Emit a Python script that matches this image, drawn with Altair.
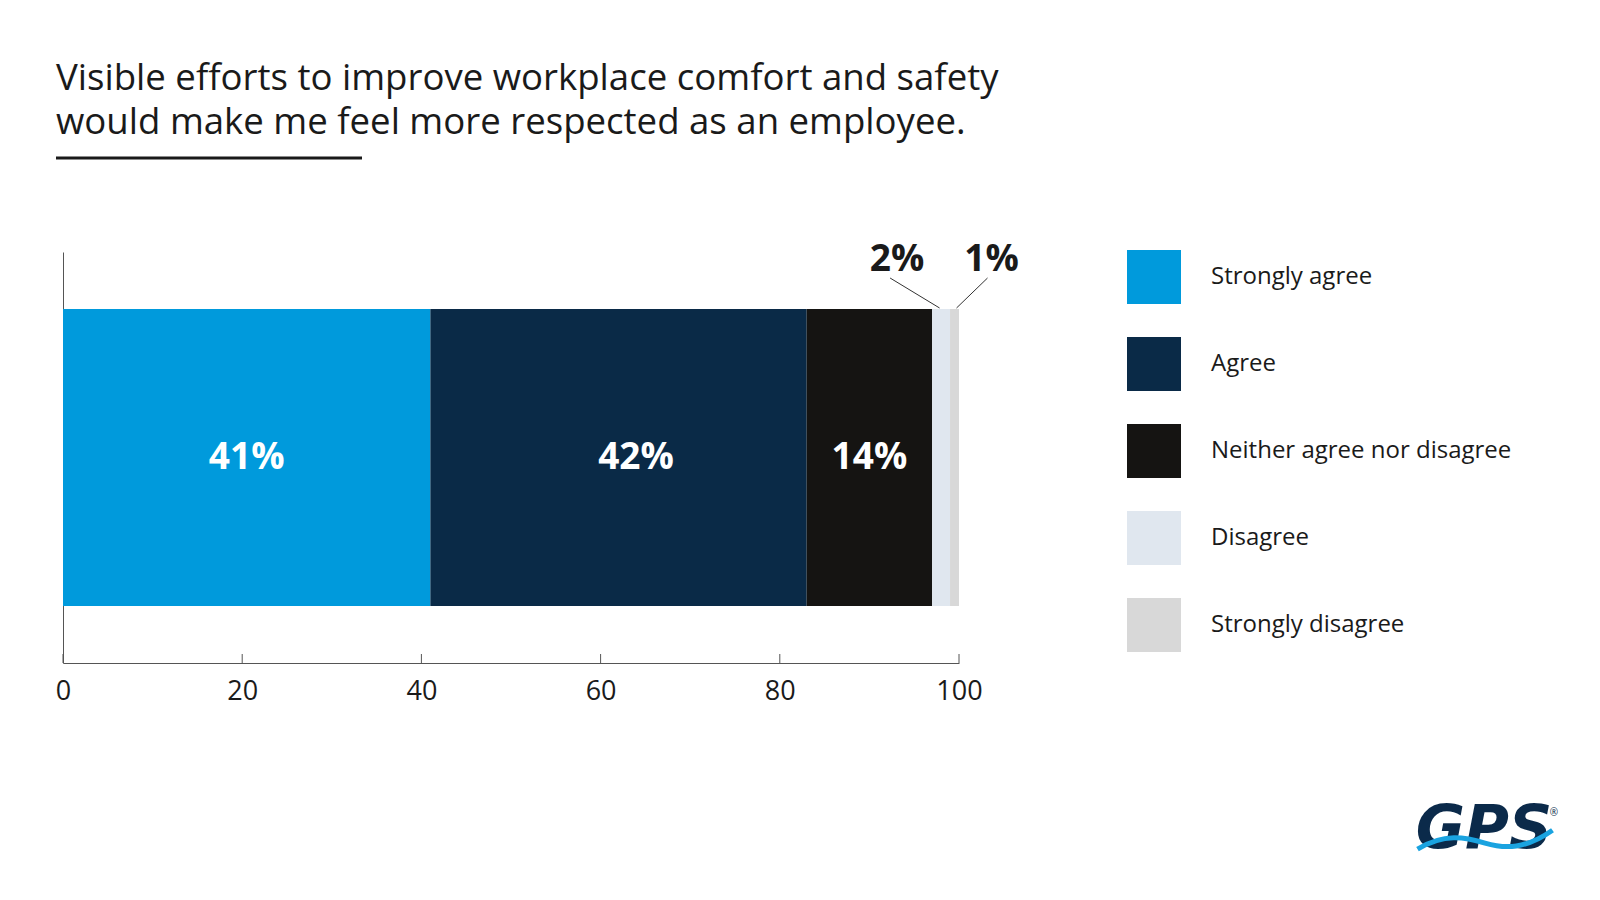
import altair as alt
import pandas as pd

categories = ["Strongly agree", "Agree", "Neither agree nor disagree", "Disagree", "Strongly disagree"]
values = [41, 42, 14, 2, 1]
colors = ["#009ADC", "#0A2A47", "#151412", "#E0E7EF", "#D8D8D8"]
tick_values = [0, 20, 40, 60, 80, 100]
title_lines = ["Visible efforts to improve workplace comfort and safety",
               "would make me feel more respected as an employee."]

W, H = 896, 411
FONT = "Open Sans"
TXT = "#1a1a1a"

df = pd.DataFrame({"category": categories, "value": values})
df["end"] = df["value"].cumsum()
df["start"] = df["end"] - df["value"]
df["center"] = (df["start"] + df["end"]) / 2
df["label"] = df["value"].astype(str) + "%"
df["row"] = "Q"

px = 100 / W  # data units per pixel
# pixel offsets for labels and leader lines (layout only)
lab_dx = {"Agree": 17.5, "Disagree": -44, "Strongly disagree": 37}
line_top_dx = {"Disagree": -51, "Strongly disagree": 33}
line_bot_dx = {"Disagree": -1.5, "Strongly disagree": 2}
df["lab_x"] = df["center"] + df["category"].map(lab_dx).fillna(0) * px
df["lt_x"] = df["center"] + df["category"].map(line_top_dx).fillna(0) * px
df["lb_x"] = df["center"] + df["category"].map(line_bot_dx).fillna(0) * px

ticks_df = pd.DataFrame({"t": tick_values})
one = ticks_df.head(1)

x_scale = alt.Scale(domain=[0, 100], nice=False, zero=False)
y_scale = alt.Scale(paddingInner=0, paddingOuter=0.192)

base = alt.Chart(df)

bars = base.mark_bar(strokeWidth=0).encode(
    x=alt.X("start:Q", scale=x_scale,
            axis=alt.Axis(values=tick_values, title=None, grid=False, ticks=False,
                          labelPadding=15, labelFontSize=27, labelFont=FONT,
                          labelColor=TXT, domainColor="#555555", domainWidth=1,
                          labelFlush=False)),
    x2="end:Q",
    y=alt.Y("row:N", scale=y_scale,
            axis=alt.Axis(title=None, labels=False, ticks=False, grid=False,
                          domainColor="#555555", domainWidth=1)),
    color=alt.Color("category:N", sort=categories,
                    scale=alt.Scale(domain=categories, range=colors),
                    legend=alt.Legend(title=None, orient="none", legendX=1064, legendY=-2,
                                      symbolType="square", symbolSize=2916,
                                      symbolStrokeWidth=0, rowPadding=33,
                                      labelFont=FONT, labelFontSize=24, labelColor=TXT,
                                      labelOffset=30, padding=0, labelLimit=500)),
)

inner = base.transform_filter(alt.datum.value >= 10).mark_text(
    font=FONT, fontSize=37, fontWeight="bold", color="white", baseline="middle"
).encode(x=alt.X("lab_x:Q", scale=x_scale), y=alt.Y("row:N", scale=y_scale), text="label:N")

outer = base.transform_filter(alt.datum.value < 10).mark_text(
    font=FONT, fontSize=37, fontWeight="bold", color=TXT, baseline="middle"
).encode(x=alt.X("lab_x:Q", scale=x_scale), y=alt.value(8), text="label:N")

leaders = base.transform_filter(alt.datum.value < 10).mark_rule(
    color="#333333", strokeWidth=1
).encode(x=alt.X("lt_x:Q", scale=x_scale), x2="lb_x:Q", y=alt.value(26), y2=alt.value(56))

ticks = alt.Chart(ticks_df).mark_rule(color="#555555", strokeWidth=1).encode(
    x=alt.X("t:Q", scale=x_scale), y=alt.value(H - 9), y2=alt.value(H)
)

underline = alt.Chart(one).mark_rule(color=TXT, strokeWidth=3).encode(
    x=alt.value(-7), x2=alt.value(299), y=alt.value(-94)
)

logo = alt.Chart(one).mark_text(
    text="GPS", font="DejaVu Sans", fontSize=60, fontWeight="bold", fontStyle="italic",
    color="#0B2A4A", align="center", baseline="alphabetic"
).encode(x=alt.value(1421), y=alt.value(596))

wave = alt.Chart(one).mark_point(
    shape="M-1,0.12 C-0.6,-0.12 -0.3,-0.06 0,0.03 C0.3,0.12 0.6,0.12 1,-0.16",
    filled=False, stroke="#1AA3E0", strokeWidth=5, opacity=1
).encode(x=alt.value(1422), y=alt.value(589), size=alt.value(18225))

logo_r = alt.Chart(one).mark_text(
    text="®", font=FONT, fontSize=10, color="#0B2A4A"
).encode(x=alt.value(1491), y=alt.value(561))

chart = alt.layer(bars, inner, outer, leaders, ticks, underline, logo, wave, logo_r).properties(
    width=W, height=H, background="white",
    title=alt.TitleParams(text=title_lines, anchor="start", frame="group", dx=-7,
                          offset=15, fontSize=36.6, font=FONT, fontWeight="normal",
                          color=TXT, lineHeight=44),
    autosize=alt.AutoSizeParams(type="none"),
    padding={"left": 55, "top": 244, "right": 620, "bottom": 200},
).configure_view(strokeWidth=0, stroke="transparent")

chart.save("out.html", embed_options={"renderer": "svg", "actions": False})
